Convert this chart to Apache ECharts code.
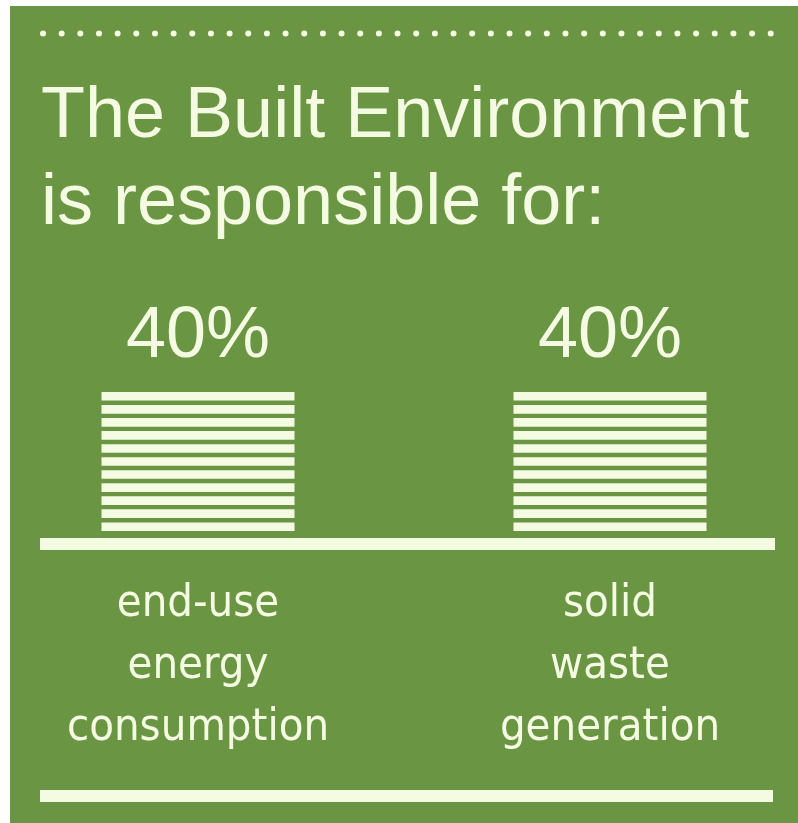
<!DOCTYPE html>
<html>
<head>
<meta charset="utf-8">
<title>The Built Environment</title>
<script src="https://cdn.jsdelivr.net/npm/echarts@6/dist/echarts.min.js"></script>
<style>
  html, body { margin: 0; padding: 0; background: #ffffff; }
  #chart { width: 798px; height: 823px; }
</style>
</head>
<body>
<div id="chart"></div>
<script>
// Share of impacts attributed to the built environment
const categories = ['end-use\nenergy\nconsumption', 'solid\nwaste\ngeneration'];
const shares = [40, 40];
const titleLines = ['The Built Environment', 'is responsible for:'];
const stripeCount = 11;

const GREEN = '#6a9543';
const CREAM = '#f5fbe3';

const chart = echarts.init(document.getElementById('chart'), null, { renderer: 'canvas' });

chart.setOption({
  backgroundColor: '#ffffff',
  animation: false,
  title: {
    text: titleLines.join('\n'),
    left: 41,
    top: 74,
    padding: 0,
    textStyle: {
      color: CREAM,
      fontFamily: 'Liberation Sans, Arial, sans-serif',
      fontWeight: 'normal',
      fontSize: 72,
      lineHeight: 87
    }
  },
  grid: {
    left: -8, right: -18, top: 183.5, bottom: 292,
    containLabel: false,
    outerBoundsMode: 'none'
  },
  xAxis: {
    type: 'category',
    data: categories,
    axisLine: { show: false },
    axisTick: { show: false },
    axisLabel: {
      interval: 0,
      margin: 42,
      color: CREAM,
      fontFamily: 'DejaVu Sans Condensed, Liberation Sans Narrow, sans-serif',
      fontSize: 45,
      lineHeight: 62
    }
  },
  yAxis: {
    type: 'value',
    min: 0,
    max: 100,
    show: false,
    splitLine: { show: false }
  },
  graphic: [
    {
      type: 'rect', z: -10, silent: true,
      shape: { x: 10, y: 6, width: 788, height: 817 },
      style: { fill: GREEN }
    },
    {
      // dotted rule along the top
      type: 'line', silent: true,
      shape: { x1: 43, y1: 33.5, x2: 771, y2: 33.5 },
      style: { stroke: CREAM, lineWidth: 6, lineCap: 'round', lineDash: [0.01, 18.65] }
    },
    {
      // baseline under the bars
      type: 'rect', silent: true,
      shape: { x: 40, y: 538, width: 735, height: 12 },
      style: { fill: CREAM }
    },
    {
      // closing rule at the bottom
      type: 'rect', silent: true,
      shape: { x: 40, y: 790, width: 733, height: 12 },
      style: { fill: CREAM }
    }
  ],
  series: [
    {
      type: 'pictorialBar',
      // each bar is a stack of evenly spaced stripes filling its value
      data: shares.map(v => ({ value: v, symbolBoundingData: v })),
      symbol: 'rect',
      symbolRepeat: stripeCount,
      symbolSize: [193, 8.6],
      symbolMargin: 0,
      itemStyle: { color: CREAM },
      label: {
        show: true,
        position: 'top',
        distance: 19,
        formatter: '{c}%',
        color: CREAM,
        fontFamily: 'Liberation Sans, Arial, sans-serif',
        fontSize: 72
      }
    }
  ]
});
</script>
</body>
</html>
